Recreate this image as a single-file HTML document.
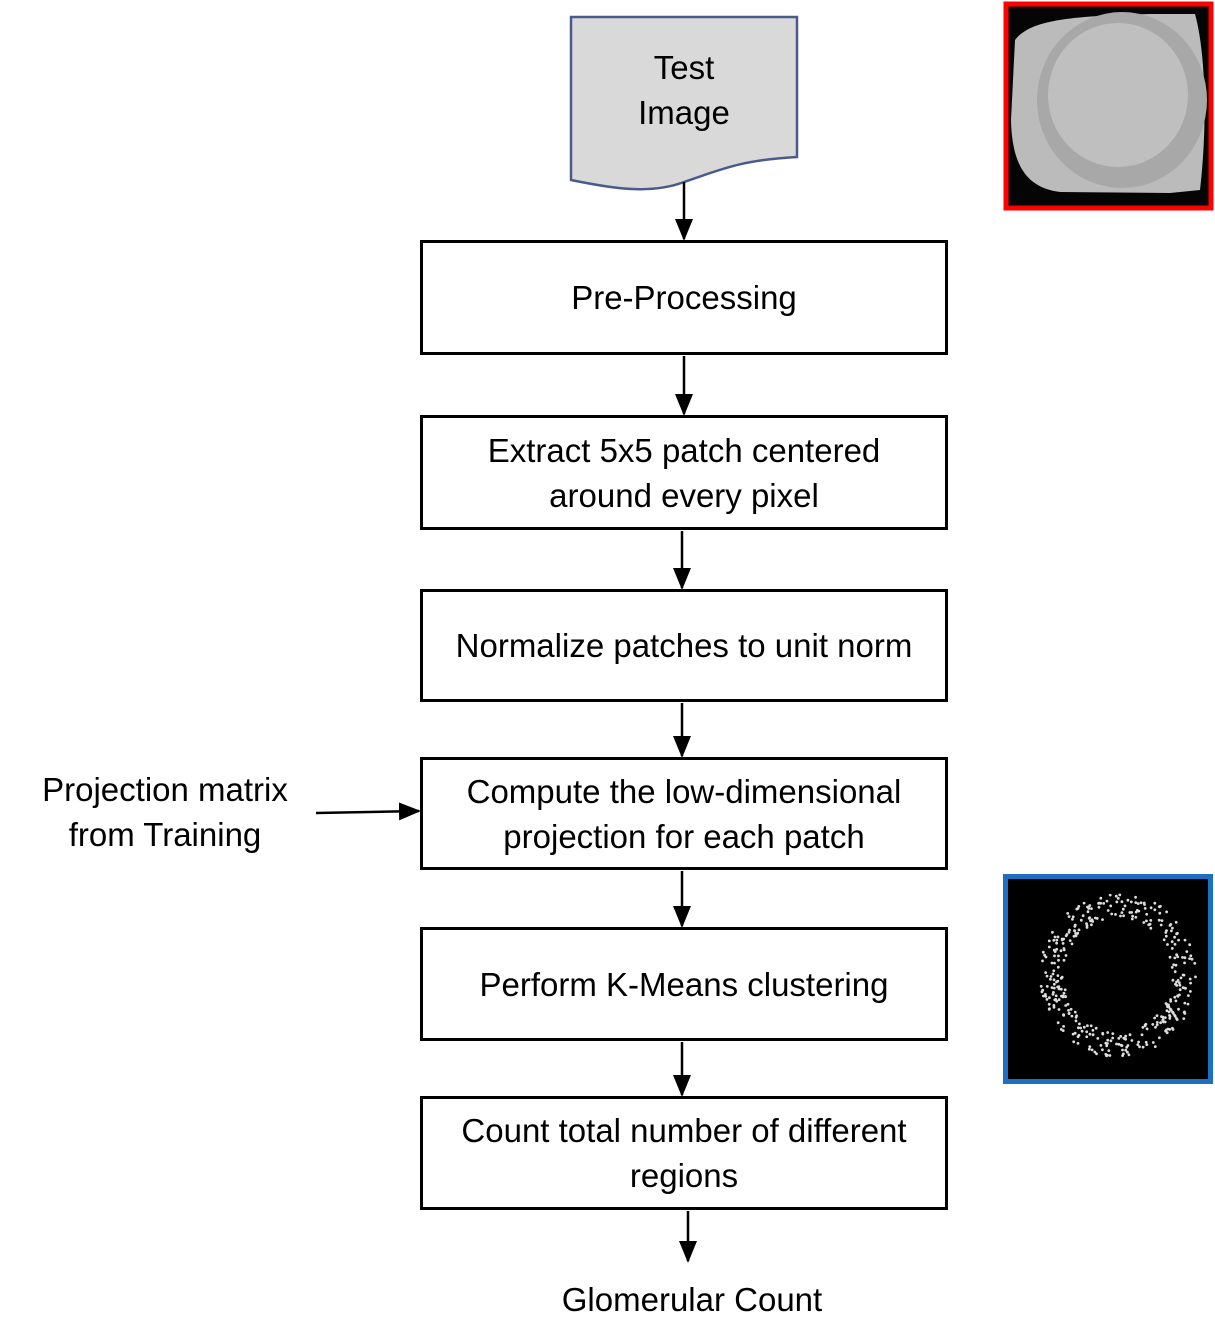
<!DOCTYPE html>
<html><head><meta charset="utf-8"><style>
html,body{margin:0;padding:0;background:#fff;}
body{width:1215px;height:1329px;position:relative;overflow:hidden;font-family:"Liberation Sans",sans-serif;color:#000;}
.box{position:absolute;left:420px;width:522px;border:3px solid #000;display:flex;align-items:center;justify-content:center;text-align:center;font-size:33px;line-height:45px;box-sizing:content-box;}
.t{position:absolute;text-align:center;font-size:33px;line-height:45px;}
</style></head><body>
<svg width="1215" height="1329" style="position:absolute;left:0;top:0">
<defs><marker id="b" markerWidth="22" markerHeight="22" refX="20" refY="11" orient="auto" markerUnits="userSpaceOnUse" viewBox="0 0 22 22"><path d="M0,2 L22,11 L0,20z" fill="#000"/></marker></defs>
<path d="M571,17 L797,17 L797,157 C740,160 720,170 684,182 C650,195 610,188 571,180 Z" fill="#d9d9d9" stroke="#4a5a8a" stroke-width="2.5"/>
<g stroke="#000" stroke-width="2.5" fill="none">
<line x1="684" y1="182" x2="684" y2="239" marker-end="url(#b)"/>
<line x1="684" y1="356" x2="684" y2="414" marker-end="url(#b)"/>
<line x1="682" y1="531" x2="682" y2="588" marker-end="url(#b)"/>
<line x1="682" y1="703" x2="682" y2="756" marker-end="url(#b)"/>
<line x1="682" y1="871" x2="682" y2="926" marker-end="url(#b)"/>
<line x1="682" y1="1042" x2="682" y2="1095" marker-end="url(#b)"/>
<line x1="688" y1="1211" x2="688" y2="1261" marker-end="url(#b)"/>
<line x1="316" y1="813" x2="419" y2="811" marker-end="url(#b)"/>
</g>
<rect x="1006" y="4" width="205" height="204" fill="#050505" stroke="#f00" stroke-width="5"/>
<path d="M1015,40 C1030,20 1070,16 1150,14 L1195,14 C1205,50 1208,120 1200,190 L1170,193 L1060,192 C1030,188 1012,170 1011,120 Z" fill="#bbbbbb"/>
<ellipse cx="1122" cy="100" rx="85" ry="88" fill="#a8a8a8"/>
<ellipse cx="1118" cy="95" rx="70" ry="72" fill="#bfbfbf"/>
<rect x="1005.5" y="876.5" width="205" height="205" fill="#000" stroke="#1f6fc0" stroke-width="5"/>
<g fill="#ddd" id="dots"></g>
</svg>
<div class="t" style="left:571px;width:226px;top:45px;">Test<br>Image</div>
<div class="box" style="top:240px;height:109px;">Pre-Processing</div>
<div class="box" style="top:415px;height:109px;">Extract 5x5 patch centered<br>around every pixel</div>
<div class="box" style="top:589px;height:107px;">Normalize patches to unit norm</div>
<div class="box" style="top:757px;height:107px;">Compute the low-dimensional<br>projection for each patch</div>
<div class="box" style="top:927px;height:108px;">Perform K-Means clustering</div>
<div class="box" style="top:1096px;height:108px;">Count total number of different<br>regions</div>
<div class="t" style="left:450px;width:484px;top:1277px;">Glomerular Count</div>
<div class="t" style="left:5px;width:320px;top:767px;">Projection matrix<br>from Training</div>
<script>
var g=document.getElementById('dots'),s='';var seed=7;function r(){seed=(seed*9301+49297)%233280;return seed/233280;}
for(var i=0;i<380;i++){var t=r()*6.283,k=0.7+r()*0.3;var x=1118+Math.cos(t)*78*k,y=975+Math.sin(t)*82*k;s+='<circle cx="'+x.toFixed(1)+'" cy="'+y.toFixed(1)+'" r="1.4"/>';}
g.innerHTML=s;
</script>
</body></html>
